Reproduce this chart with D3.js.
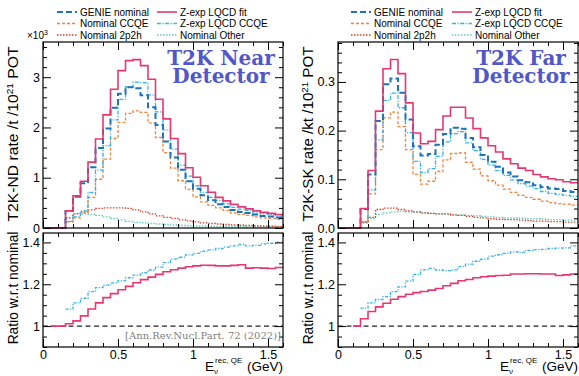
<!DOCTYPE html>
<html>
<head>
<meta charset="utf-8">
<script src="https://cdn.jsdelivr.net/npm/d3@7/dist/d3.min.js"></script>
<style>
  body { margin: 0; background: #fff; }
  svg { display: block; }
  text { font-family: "Liberation Sans", Arial, sans-serif; fill: #000; }
</style>
</head>
<body>
<svg id="chart" width="579" height="376"></svg>
<script>
// bin edges, E_nu^{rec,QE} in GeV
const edges = [0, 0.05, 0.1, 0.15, 0.2, 0.25, 0.3, 0.35, 0.4, 0.45, 0.5, 0.55, 0.6, 0.65, 0.7, 0.75,
  0.8, 0.85, 0.9, 0.95, 1.0, 1.05, 1.1, 1.15, 1.2, 1.25, 1.3, 1.35, 1.4, 1.45, 1.5, 1.55, 1.6];

// near detector, rate in units of 10^3
const nearFit = [0, 0, 0, 0.34, 0.64, 0.93, 1.31, 1.77, 2.25, 2.76, 3.13, 3.33, 3.35, 3.23, 2.96, 2.56,
  2.17, 1.78, 1.48, 1.20, 1.01, 0.84, 0.71, 0.61, 0.54, 0.47, 0.42, 0.38, 0.34, 0.31, 0.29, 0.27];
const nearGenie = [0, 0, 0, 0.34, 0.62, 0.89, 1.21, 1.59, 1.98, 2.39, 2.67, 2.80, 2.78, 2.64, 2.40, 2.05,
  1.72, 1.40, 1.16, 0.93, 0.78, 0.65, 0.55, 0.47, 0.42, 0.36, 0.32, 0.30, 0.27, 0.24, 0.23, 0.21];
const nearCCQE = [0, 0, 0, 0.12, 0.20, 0.30, 0.61, 0.97, 1.37, 1.78, 2.10, 2.28, 2.33, 2.30, 2.09, 1.80,
  1.50, 1.19, 0.94, 0.77, 0.62, 0.52, 0.45, 0.40, 0.35, 0.30, 0.27, 0.25, 0.22, 0.20, 0.19, 0.17];
const nearLqcdCCQE = [0, 0, 0, 0.13, 0.22, 0.34, 0.71, 1.15, 1.64, 2.15, 2.56, 2.81, 2.90, 2.89, 2.65, 2.31,
  1.95, 1.57, 1.25, 1.03, 0.84, 0.71, 0.61, 0.55, 0.48, 0.41, 0.375, 0.35, 0.30, 0.28, 0.265, 0.24];
const near2p2h = [0, 0, 0, 0.20, 0.28, 0.32, 0.36, 0.39, 0.40, 0.40, 0.40, 0.39, 0.36, 0.32, 0.28, 0.24,
  0.21, 0.19, 0.16, 0.14, 0.12, 0.10, 0.09, 0.08, 0.07, 0.06, 0.055, 0.05, 0.045, 0.04, 0.035, 0.03];
const nearOther = [0, 0, 0, 0.20, 0.29, 0.28, 0.27, 0.25, 0.22, 0.19, 0.16, 0.13, 0.11, 0.10, 0.09, 0.08,
  0.07, 0.06, 0.05, 0.045, 0.04, 0.04, 0.035, 0.03, 0.03, 0.03, 0.025, 0.025, 0.02, 0.02, 0.02, 0.02];
const nearFitRatio = [null, 1.0, 1.0, 1.011, 1.025, 1.049, 1.082, 1.111, 1.136, 1.155, 1.174, 1.19, 1.207,
  1.222, 1.234, 1.247, 1.26, 1.269, 1.277, 1.284, 1.288, 1.291, 1.29, 1.288, 1.288, 1.29, 1.293, 1.277,
  1.279, 1.277, 1.275, 1.28];
const nearCCQERatio = [null, null, null, 1.081, 1.111, 1.133, 1.165, 1.184, 1.196, 1.207, 1.217, 1.231,
  1.244, 1.255, 1.268, 1.282, 1.303, 1.32, 1.329, 1.34, 1.348, 1.358, 1.364, 1.371, 1.377, 1.383, 1.39,
  1.383, 1.386, 1.393, 1.396, 1.40];

// far detector
const farFit = [0, 0, 0, 0.040, 0.118, 0.24, 0.327, 0.346, 0.317, 0.257, 0.195, 0.173, 0.178, 0.202, 0.23,
  0.248, 0.248, 0.226, 0.204, 0.185, 0.169, 0.156, 0.142, 0.132, 0.123, 0.118, 0.110, 0.105, 0.101, 0.099,
  0.095, 0.093];
const farGenie = [0, 0, 0, 0.039, 0.110, 0.220, 0.295, 0.307, 0.278, 0.223, 0.168, 0.149, 0.152, 0.171,
  0.193, 0.206, 0.204, 0.185, 0.166, 0.150, 0.136, 0.126, 0.114, 0.106, 0.098, 0.094, 0.088, 0.084, 0.081,
  0.080, 0.076, 0.074];
const farCCQE = [0, 0, 0, 0.012, 0.07, 0.161, 0.226, 0.238, 0.208, 0.161, 0.11, 0.09, 0.096, 0.116, 0.14,
  0.153, 0.154, 0.135, 0.121, 0.107, 0.097, 0.088, 0.08, 0.073, 0.067, 0.063, 0.059, 0.055, 0.052, 0.05,
  0.049, 0.047];
const farLqcdCCQE = [0, 0, 0, 0.013, 0.078, 0.181, 0.262, 0.277, 0.247, 0.196, 0.137, 0.114, 0.122, 0.147,
  0.177, 0.194, 0.198, 0.175, 0.159, 0.141, 0.129, 0.118, 0.108, 0.099, 0.091, 0.086, 0.081, 0.075, 0.071,
  0.069, 0.067, 0.065];
const far2p2h = [0, 0, 0, 0.012, 0.022, 0.038, 0.041, 0.041, 0.038, 0.035, 0.033, 0.031, 0.030, 0.029, 0.029,
  0.027, 0.026, 0.024, 0.022, 0.021, 0.019, 0.018, 0.017, 0.017, 0.016, 0.015, 0.014, 0.014, 0.013, 0.013,
  0.012, 0.012];
const farOther = [0, 0, 0, 0.010, 0.020, 0.028, 0.031, 0.033, 0.034, 0.033, 0.032, 0.031, 0.030, 0.029,
  0.028, 0.027, 0.027, 0.026, 0.025, 0.024, 0.023, 0.022, 0.021, 0.021, 0.020, 0.019, 0.019, 0.018, 0.017,
  0.017, 0.016, 0.016];
const farFitRatio = [null, null, 1.0, 1.035, 1.07, 1.092, 1.109, 1.128, 1.141, 1.152, 1.16, 1.165, 1.172,
  1.18, 1.193, 1.204, 1.217, 1.223, 1.231, 1.236, 1.239, 1.242, 1.243, 1.249, 1.249, 1.25, 1.25, 1.249,
  1.249, 1.242, 1.245, 1.249];
const farCCQERatio = [null, null, null, 1.086, 1.111, 1.127, 1.141, 1.165, 1.187, 1.215, 1.247, 1.269,
  1.276, 1.268, 1.265, 1.269, 1.284, 1.296, 1.31, 1.32, 1.334, 1.341, 1.348, 1.355, 1.352, 1.362, 1.366,
  1.367, 1.371, 1.373, 1.374, 1.383];

const xMajor = [0, 0.5, 1, 1.5];
const xMinor = [0.1, 0.2, 0.3, 0.4, 0.6, 0.7, 0.8, 0.9, 1.1, 1.2, 1.3, 1.4, 1.6];
const ratioMajor = [1, 1.2, 1.4];
const ratioMinor = [0.9, 0.95, 1.05, 1.1, 1.15, 1.25, 1.3, 1.35];
const nearYMajor = [0, 1, 2, 3];
const farYMajor = [0, 0.1, 0.2, 0.3];

const legendItems = [
  {key: 'genie', label: 'GENIE nominal'},
  {key: 'ccqe', label: 'Nominal CCQE'},
  {key: 'p2h', label: 'Nominal 2p2h'},
  {key: 'fit', label: 'Z-exp LQCD fit'},
  {key: 'lqcd', label: 'Z-exp LQCD CCQE'},
  {key: 'other', label: 'Nominal Other'}
];

const styles = {
  other: {stroke: '#62cbbb', width: 1.3, dash: '1.5,1.5'},
  p2h:   {stroke: '#d9402a', width: 1.3, dash: '1.5,1.5'},
  ccqe:  {stroke: '#f2823a', width: 1.3, dash: '3,2'},
  lqcd:  {stroke: '#36b2e6', width: 1.3, dash: '4,1.5,1.2,1.5'},
  genie: {stroke: '#1f73b6', width: 2, dash: '6,3'},
  fit:   {stroke: '#e6386f', width: 1.6, dash: null}
};

const SERIF = '"DejaVu Serif", "Liberation Serif", serif';
const svg = d3.select('#chart');

function stepPoints(vals) {
  const pts = [];
  vals.forEach((v, i) => {
    if (v == null) return;
    pts.push([edges[i], v], [edges[i + 1], v]);
  });
  return pts;
}

function addLine(g, x, y, vals, st) {
  const line = d3.line().x(d => x(d[0])).y(d => y(d[1]));
  g.append('path')
    .attr('d', line(stepPoints(vals)))
    .attr('fill', 'none')
    .attr('stroke', st.stroke)
    .attr('stroke-width', st.width)
    .attr('stroke-dasharray', st.dash)
    .attr('stroke-linejoin', 'miter');
}

// ROOT-like frame with inward ticks on all four sides
function frame(g, x, y, xmaj, xmin, ymaj, ymin, showX, yFmt) {
  const [x0, x1] = x.range();
  const [y0, y1] = y.range();
  const bottom = g.append('g').attr('transform', `translate(0,${y0})`);
  bottom.call(d3.axisBottom(x).tickValues(xmin).tickSize(-4).tickFormat(''));
  bottom.append('g').call(d3.axisBottom(x).tickValues(xmaj).tickSize(-8)
    .tickFormat(showX ? d3.format('') : ''));
  const top = g.append('g').attr('transform', `translate(0,${y1})`);
  top.call(d3.axisTop(x).tickValues(xmin).tickSize(-4).tickFormat(''));
  top.append('g').call(d3.axisTop(x).tickValues(xmaj).tickSize(-8).tickFormat(''));
  const left = g.append('g').attr('transform', `translate(${x0},0)`);
  left.call(d3.axisLeft(y).tickValues(ymin).tickSize(-4).tickFormat(''));
  left.append('g').call(d3.axisLeft(y).tickValues(ymaj).tickSize(-8).tickFormat(yFmt));
  const right = g.append('g').attr('transform', `translate(${x1},0)`);
  right.call(d3.axisRight(y).tickValues(ymin).tickSize(-4).tickFormat(''));
  right.append('g').call(d3.axisRight(y).tickValues(ymaj).tickSize(-8).tickFormat(''));
  g.selectAll('.domain').remove();
  g.selectAll('.tick line').attr('stroke', '#000').attr('stroke-width', 1);
  g.selectAll('.tick text').style('font-size', '12.5px');
  g.selectAll('text').filter(function () { return this.textContent === ''; }).remove();
  g.append('rect')
    .attr('x', x0).attr('y', y1).attr('width', x1 - x0).attr('height', y0 - y1)
    .attr('fill', 'none').attr('stroke', '#000').attr('stroke-width', 1.2);
}

function panel(cfg) {
  const g = svg.append('g');
  const x = d3.scaleLinear().domain([0, 1.6]).range([cfg.left, cfg.left + 240]);
  const y = d3.scaleLinear().domain([0, cfg.yMax]).range([228, 42]);
  const yr = d3.scaleLinear().domain([0.9, 1.445]).range([347, 233]);

  const hist = g.append('g');
  addLine(hist, x, y, cfg.other, styles.other);
  addLine(hist, x, y, cfg.p2h, styles.p2h);
  addLine(hist, x, y, cfg.ccqe, styles.ccqe);
  addLine(hist, x, y, cfg.lqcd, styles.lqcd);
  addLine(hist, x, y, cfg.genie, styles.genie);
  addLine(hist, x, y, cfg.fit, styles.fit);

  frame(g.append('g'), x, y, xMajor, xMinor, cfg.yMajor, cfg.yMinor, false, cfg.yFmt);

  // ratio panel
  const rg = g.append('g');
  rg.append('line')
    .attr('x1', x(0)).attr('x2', x(1.6)).attr('y1', yr(1)).attr('y2', yr(1))
    .attr('stroke', '#222').attr('stroke-width', 1.2).attr('stroke-dasharray', '5,3.5');
  addLine(rg, x, yr, cfg.ccqeRatio, {stroke: '#36b2e6', width: 1.3, dash: '3,1.5,1.2,1.5'});
  addLine(rg, x, yr, cfg.fitRatio, styles.fit);
  frame(g.append('g'), x, yr, xMajor, xMinor, ratioMajor, ratioMinor, true, d3.format(''));

  // axis titles
  g.append('text')
    .attr('transform', `translate(${cfg.left - 25},134) rotate(-90)`)
    .attr('text-anchor', 'middle').style('font-size', '14px')
    .attr('textLength', 175).attr('lengthAdjust', 'spacingAndGlyphs')
    .html(cfg.yTitle);
  g.append('text')
    .attr('transform', `translate(${cfg.left - 25},288) rotate(-90)`)
    .attr('text-anchor', 'middle').style('font-size', '13.8px')
    .text('Ratio w.r.t nominal');
  g.append('text')
    .attr('x', x(1.6)).attr('y', 371)
    .attr('text-anchor', 'end').style('font-size', '13.5px')
    .html('E<tspan style="font-size:8px" dy="3">ν</tspan><tspan style="font-size:8px" dy="-11" dx="-3">rec, QE</tspan><tspan dy="8" dx="1"> (GeV)</tspan>');

  // detector label
  const title = g.append('text')
    .attr('text-anchor', 'middle')
    .style('font-family', SERIF)
    .style('font-weight', 'bold').style('font-size', '20px')
    .style('fill', '#5157c6');
  title.append('tspan').attr('x', cfg.titleX).attr('y', 65).text(cfg.title1);
  title.append('tspan').attr('x', cfg.titleX).attr('y', 83).text('Detector');

  // legend, two columns of three
  legendItems.forEach((d, i) => {
    const col = Math.floor(i / 3), row = i % 3;
    const lx = cfg.legendX[col], ly = 12 + row * 11.5;
    const st = styles[d.key];
    g.append('line')
      .attr('x1', lx).attr('x2', lx + 20).attr('y1', ly).attr('y2', ly)
      .attr('stroke', st.stroke).attr('stroke-width', st.width).attr('stroke-dasharray', st.dash);
    g.append('text')
      .attr('x', lx + 23).attr('y', ly + 3.5).style('font-size', '10px')
      .text(d.label);
  });
  return {g, x, y, yr};
}

const near = panel({
  left: 43, yMax: 3.7,
  yMajor: nearYMajor, yMinor: [0.2, 0.4, 0.6, 0.8, 1.2, 1.4, 1.6, 1.8, 2.2, 2.4, 2.6, 2.8, 3.2, 3.4, 3.6],
  yFmt: d3.format('d'),
  fit: nearFit, genie: nearGenie, ccqe: nearCCQE, lqcd: nearLqcdCCQE, p2h: near2p2h, other: nearOther,
  fitRatio: nearFitRatio, ccqeRatio: nearCCQERatio,
  yTitle: 'T2K-ND rate /t /10<tspan style="font-size:9px" dy="-5">21</tspan><tspan dy="5"> POT</tspan>',
  title1: 'T2K Near', titleX: 221,
  legendX: [57, 157]
});

const far = panel({
  left: 338, yMax: 0.382,
  yMajor: farYMajor,
  yMinor: [0.02, 0.04, 0.06, 0.08, 0.12, 0.14, 0.16, 0.18, 0.22, 0.24, 0.26, 0.28, 0.32, 0.34, 0.36, 0.38],
  yFmt: d3.format('.1f'),
  fit: farFit, genie: farGenie, ccqe: farCCQE, lqcd: farLqcdCCQE, p2h: far2p2h, other: farOther,
  fitRatio: farFitRatio, ccqeRatio: farCCQERatio,
  yTitle: 'T2K-SK rate /kt /10<tspan style="font-size:9px" dy="-5">21</tspan><tspan dy="5"> POT</tspan>',
  title1: 'T2K Far', titleX: 521,
  legendX: [351, 452]
});

// x10^3 multiplier for the near detector axis
svg.append('text')
  .attr('x', 27).attr('y', 39).style('font-size', '10px')
  .html('×10<tspan style="font-size:7px" dy="-4">3</tspan>');

// citation in the near ratio panel
svg.append('text')
  .attr('x', 281).attr('y', 339)
  .attr('text-anchor', 'end')
  .style('font-family', SERIF)
  .style('font-size', '10px')
  .style('fill', '#808080')
  .text('[Ann.Rev.Nucl.Part. 72 (2022)]');
</script>
</body>
</html>
